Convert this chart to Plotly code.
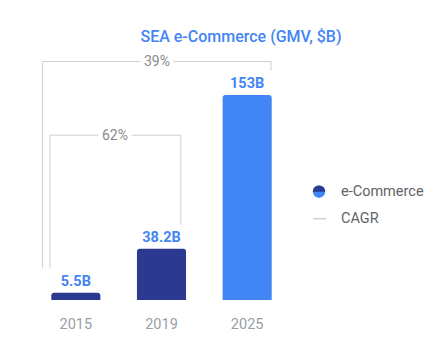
import plotly.graph_objects as go

years = ["2015", "2019", "2025"]
gmv = [5.5, 38.2, 153]
value_labels = ["5.5B", "38.2B", "153B"]
bar_colors = ["#2b3990", "#2b3990", "#4285f4"]

cagr_labels = ["39%", "62%"]
cagr_from = [0, 0]
cagr_to = [2, 1]
cagr_level = [178.0, 123.0]

W, H = 435, 353
ML, MR, MT, MB = 33, 145, 30, 53
PW, PH = W - ML - MR, H - MT - MB

def px(x):
    return (x - ML) / PW

def py(y):
    return (H - MB - y) / PH

fig = go.Figure()
fig.add_trace(go.Bar(
    x=years, y=gmv, text=value_labels, textposition="outside",
    constraintext="none", cliponaxis=False,
    marker=dict(color=bar_colors, cornerradius=3, line=dict(width=0)),
    textfont=dict(family="Roboto", size=14.5, color="#4285f4", weight="bold"),
    showlegend=False, hoverinfo="skip",
))

shapes = []
annotations = []
line_style = dict(color="#cfcfcf", width=1)
left_off = [-0.388, -0.302]
right_off = [0.278, 0.226]
end_gap = 18.0
text_x = [0.953, 0.462]
for i, lab in enumerate(cagr_labels):
    a, b = cagr_from[i], cagr_to[i]
    xl = a + left_off[i]
    xr = b + right_off[i]
    lvl = cagr_level[i]
    shapes.append(dict(type="path", xref="x", yref="y",
                       path=f"M {xl},{gmv[a] + end_gap} L {xl},{lvl} L {xr},{lvl} L {xr},{gmv[b] + end_gap}",
                       line=line_style, layer="below"))
    annotations.append(dict(x=text_x[i], y=lvl, xref="x", yref="y", text=lab,
                            showarrow=False, bgcolor="white", borderpad=3,
                            font=dict(family="Roboto", size=14, color="#8a8a8a")))

# custom legend
cx, cy, r = 319, 191.7, 6.2
k = 0.5523 * r
shapes.append(dict(type="circle", xref="paper", yref="paper",
                   x0=px(cx - r), x1=px(cx + r), y0=py(cy + r), y1=py(cy - r),
                   fillcolor="#4285f4", line=dict(width=0)))
shapes.append(dict(type="path", xref="paper", yref="paper",
                   xsizemode="pixel", ysizemode="pixel", xanchor=px(cx), yanchor=py(cy),
                   path=f"M {-r},0 C {-r},{k} {-k},{r} 0,{r} C {k},{r} {r},{k} {r},0 Z",
                   fillcolor="#2b3990", line=dict(width=0)))
shapes.append(dict(type="line", xref="paper", yref="paper",
                   x0=px(313), x1=px(326), y0=py(218.7), y1=py(218.7),
                   line=dict(color="#d0d0d0", width=1.5)))
legend_names = ["e-Commerce", "CAGR"]
legend_y = [191.7, 218.7]
for name, ly in zip(legend_names, legend_y):
    annotations.append(dict(x=px(339), y=py(ly), xref="paper", yref="paper",
                            xanchor="left", yanchor="middle", text=name, showarrow=False,
                            font=dict(family="Roboto", size=14.5, color="#5f6368")))

fig.update_layout(
    width=W, height=H,
    margin=dict(l=ML, r=MR, t=MT, b=MB),
    paper_bgcolor="white", plot_bgcolor="white",
    bargap=0.427,
    title=dict(text="SEA e-Commerce (GMV, $B)", x=241 / W, xanchor="center",
               y=1 - 36.7 / H, yanchor="middle",
               font=dict(family="Roboto", size=16, color="#4285f4", weight=500)),
    xaxis=dict(type="category", range=[-0.5, 2.5], showline=False, showgrid=False,
               zeroline=False, ticks="outside", ticklen=11, tickcolor="rgba(0,0,0,0)",
               tickfont=dict(family="Roboto", size=14.5, color="#9aa0a6")),
    yaxis=dict(range=[0, 201.5], visible=False, showgrid=False, zeroline=False),
    shapes=shapes, annotations=annotations,
    font=dict(family="Roboto"),
)

fig.write_html("out.html")
